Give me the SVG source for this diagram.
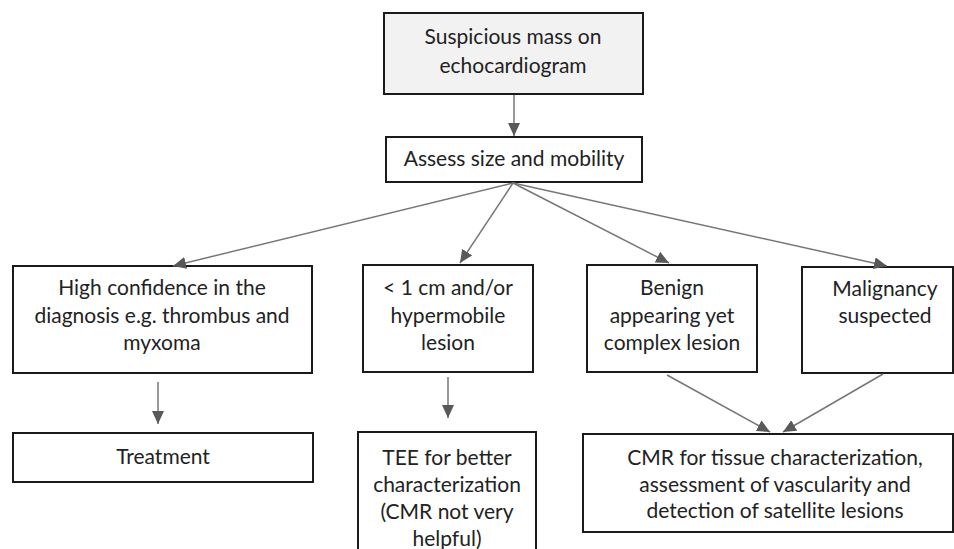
<svg xmlns="http://www.w3.org/2000/svg" width="954" height="549" viewBox="0 0 954 549">
<defs>
<style>
.box{fill:#ffffff;stroke:#1a1a1a;stroke-width:2}
.start{fill:#f2f2f2;stroke:#1a1a1a;stroke-width:2}
text{font-family:Lato,"Liberation Sans",sans-serif;font-size:21px;fill:#222222;text-anchor:middle}
.conn line{stroke:#777777;stroke-width:1.5;marker-end:url(#ah)}
</style>
<marker id="ah" markerUnits="userSpaceOnUse" markerWidth="14" markerHeight="12" viewBox="0 0 14 12" refX="13" refY="6" orient="auto">
<path d="M0,0 L13,6 L0,12 z" fill="#595959"/>
</marker>
</defs>
<rect width="954" height="549" fill="#ffffff"/>
<g id="n-suspicious">
<rect class="start" x="384" y="13" width="259" height="81"/>
<text x="513" y="44">Suspicious mass on</text>
<text x="513" y="73">echocardiogram</text>
</g>
<g id="n-assess">
<rect class="box" x="386" y="137" width="256" height="45"/>
<text x="514" y="166">Assess size and mobility</text>
</g>
<g id="n-high">
<rect class="box" x="13" y="266" width="299" height="107"/>
<text x="162" y="295">High confidence in the</text>
<text x="162" y="323">diagnosis e.g. thrombus and</text>
<text x="162" y="350">myxoma</text>
</g>
<g id="n-small">
<rect class="box" x="363" y="265" width="170" height="107"/>
<text x="448" y="295">&lt; 1 cm and/or</text>
<text x="448" y="323">hypermobile</text>
<text x="448" y="350">lesion</text>
</g>
<g id="n-benign">
<rect class="box" x="587" y="265" width="170" height="107"/>
<text x="672" y="295">Benign</text>
<text x="672" y="323">appearing yet</text>
<text x="672" y="350">complex lesion</text>
</g>
<g id="n-malig">
<rect class="box" x="802" y="267" width="151" height="106"/>
<text x="885" y="296">Malignancy</text>
<text x="885" y="323">suspected</text>
</g>
<g id="n-treatment">
<rect class="box" x="13" y="433" width="300" height="49"/>
<text x="163" y="464">Treatment</text>
</g>
<g id="n-tee">
<rect class="box" x="358" y="432" width="178" height="130"/>
<text x="447" y="465">TEE for better</text>
<text x="447" y="492">characterization</text>
<text x="447" y="519">(CMR not very</text>
<text x="447" y="546">helpful)</text>
</g>
<g id="n-cmr">
<rect class="box" x="583" y="434" width="370" height="98"/>
<text x="775" y="465">CMR for tissue characterization,</text>
<text x="775" y="492">assessment of vascularity and</text>
<text x="775" y="518">detection of satellite lesions</text>
</g>
<g id="connectors" class="conn">
<line x1="514" y1="95" x2="514" y2="136"/>
<line x1="513" y1="183" x2="173" y2="266"/>
<line x1="513" y1="183" x2="460" y2="263"/>
<line x1="513" y1="183" x2="669" y2="263"/>
<line x1="513" y1="183" x2="887" y2="266"/>
<line x1="158" y1="382" x2="158" y2="424"/>
<line x1="448" y1="377" x2="448" y2="418"/>
<line x1="667" y1="375" x2="770" y2="432"/>
<line x1="883" y1="374" x2="783" y2="432"/>
</g>
</svg>
